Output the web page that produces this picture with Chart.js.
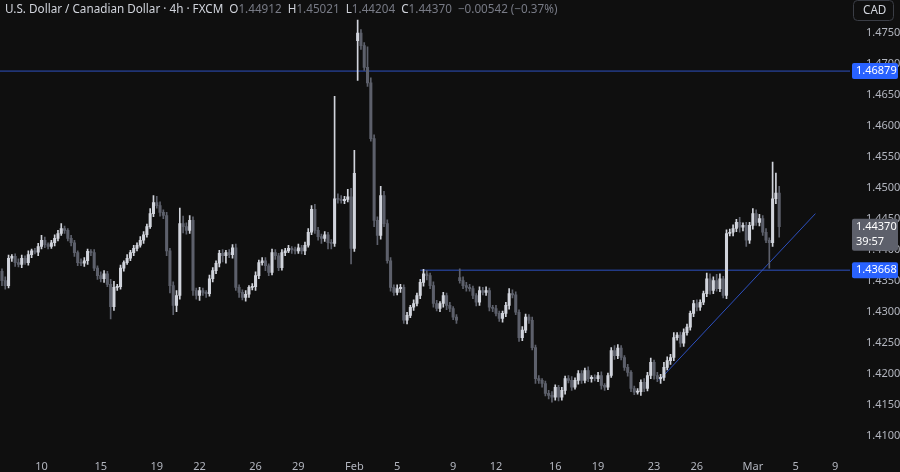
<!DOCTYPE html>
<html><head><meta charset="utf-8">
<script src="https://cdn.jsdelivr.net/npm/chart.js@4"></script>
<style>html,body{margin:0;padding:0;background:#0f0f0f;overflow:hidden}</style>
</head><body><canvas id="c" width="900" height="472"></canvas>
<script>
// 4h closes (USD/CAD)
const closes=[1.4350,1.4342,1.4386,1.4389,1.4379,1.4376,1.4386,1.4379,1.4392,1.4398,
1.4396,1.4405,1.4415,1.4408,1.4405,1.4411,1.4418,1.4426,1.4434,1.4431,
1.4418,1.4411,1.4395,1.4379,1.4378,1.4382,1.4397,1.4395,1.4370,1.4358,
1.4353,1.4361,1.4344,1.4308,1.4339,1.4340,1.4370,1.4379,1.4386,1.4395,
1.4402,1.4407,1.4415,1.4424,1.4437,1.4458,1.4476,1.4471,1.4460,1.4455,
1.4398,1.4342,1.4310,1.4326,1.4442,1.4437,1.4431,1.4447,1.4334,1.4326,
1.4334,1.4331,1.4329,1.4353,1.4366,1.4378,1.4394,1.4390,1.4395,1.4392,
1.4403,1.4339,1.4331,1.4323,1.4328,1.4339,1.4340,1.4358,1.4379,1.4382,
1.4374,1.4363,1.4395,1.4390,1.4371,1.4395,1.4398,1.4402,1.4400,1.4398,
1.4403,1.4398,1.4407,1.4428,1.4465,1.4431,1.4421,1.4418,1.4424,1.4411,
1.4410,1.4482,1.4481,1.4479,1.4481,1.4485,1.4402,1.4523,1.4749,1.4729,
1.4694,1.4669,1.4579,1.4447,1.4423,1.4487,1.4442,1.4382,1.4339,1.4331,
1.4337,1.4339,1.4286,1.4294,1.4307,1.4313,1.4326,1.4347,1.4361,1.4358,
1.4342,1.4313,1.4305,1.4313,1.4326,1.4310,1.4305,1.4291,1.4286,1.4350,
1.4342,1.4339,1.4337,1.4326,1.4315,1.4334,1.4331,1.4334,1.4307,1.4305,
1.4297,1.4289,1.4297,1.4310,1.4329,1.4327,1.4299,1.4258,1.4270,1.4291,
1.4286,1.4242,1.4192,1.4189,1.4184,1.4168,1.4165,1.4162,1.4178,1.4162,
1.4173,1.4192,1.4189,1.4178,1.4189,1.4200,1.4189,1.4205,1.4192,1.4194,
1.4192,1.4197,1.4181,1.4178,1.4197,1.4237,1.4229,1.4241,1.4226,1.4210,
1.4202,1.4176,1.4170,1.4171,1.4186,1.4176,1.4197,1.4218,1.4197,1.4192,
1.4194,1.4210,1.4221,1.4226,1.4258,1.4262,1.4249,1.4266,1.4275,1.4297,
1.4313,1.4307,1.4315,1.4329,1.4353,1.4334,1.4350,1.4337,1.4353,1.4326,
1.4426,1.4428,1.4434,1.4444,1.4436,1.4439,1.4415,1.4439,1.4458,1.4444,
1.4450,1.4428,1.4415,1.4411,1.4482,1.44912,1.44370];
// opens that differ from the previous close (session gaps)
const gapOpens={0:1.4365,108:1.4737,139:1.4355};
// wick lengths in pips above / below the body
const wickUp=[4,6,5,3,4,6,5,4,6,3, 4,5,8,5,3,4,6,5,8,4, 3,5,4,3,6,5,4,3,5,4, 6,5,4,8,10,4,5,3,6,4,
5,4,6,5,4,8,11,10,6,4, 5,4,6,8,25,12,6,8,6,4, 5,4,3,6,5,4,5,6,4,5, 5,6,4,4,6,3,5,6,4,5,
5,3,6,5,4,5,4,5,3,4, 6,4,5,6,6,8,5,4,5,4, 5,165,8,6,5,12,14,37,21,6, 5,33,8,6,6,15,7,6,5,4,
6,5,4,5,3,6,4,5,7,5, 4,6,5,3,5,4,5,3,4,14, 6,5,5,4,3,6,5,6,4,3, 5,4,4,5,8,6,5,4,6,5,
4,5,4,5,3,4,5,6,4,3, 5,4,5,6,4,5,5,4,6,3, 4,5,6,3,4,5,8,6,4,3, 5,3,4,5,4,6,5,7,4,5,
5,8,6,5,8,4,5,6,5,4, 5,6,4,4,9,8,6,10,8,4, 6,5,6,5,8,4,5,5,8,6, 7,5,6,4,59,32,11];
const wickDn=[8,6,4,5,6,4,5,3,4,5, 3,6,4,5,4,3,5,4,3,5, 4,5,6,5,4,5,6,5,4,6, 5,6,4,20,6,5,4,5,3,4,
5,4,3,5,4,3,5,4,6,5, 8,12,15,10,6,10,6,5,8,6, 8,5,6,4,5,5,6,10,12,5, 6,5,8,4,6,5,4,6,5,4,
8,5,4,6,5,4,5,3,6,5, 4,5,6,3,4,5,6,8,5,10, 9,5,6,4,5,4,25,5,64,6, 5,6,4,10,15,6,5,4,6,5,
4,6,5,6,4,5,4,5,6,7, 5,6,4,5,6,7,5,4,5,4, 5,6,4,5,6,5,4,5,6,5, 4,5,6,5,6,5,4,6,5,4,
5,4,8,5,6,4,6,8,5,6, 5,6,4,5,3,6,5,4,5,6, 4,5,6,5,4,3,6,5,4,5, 6,5,4,3,6,5,4,5,6,5,
8,5,4,6,5,4,6,5,4,5, 5,6,5,4,5,6,5,4,5,4, 5,4,6,5,8,6,10,5,6,5, 6,5,4,41,6,8,17];
const dateTicks=[12,30,47,60,77,90,107,120,137,150,168,181,198,211,228,241,253];
const dateLabels=['10','15','19','22','26','29','Feb','5','9','12','16','19','23','26','Mar','5','9'];
const priceTicks=[1.41,1.415,1.42,1.425,1.43,1.435,1.44,1.445,1.45,1.455,1.46,1.465,1.47,1.475];
const resistance=1.46879, support=1.43668, supportStart=127;
const trendX=[199.5,247], trendY=[1.4189,1.4458];
const lastPrice=1.44370, countdown='39:57';

const UP='#d1d4dc', DN='#5d606b', BLUE='#2d50c0';
const bodies=[], wicks=[], bc=[], wc=[];
closes.forEach((c,i)=>{
  const o = (i in gapOpens) ? gapOpens[i] : closes[i-1];
  const hi=Math.max(o,c)+wickUp[i]*0.0001, lo=Math.min(o,c)-wickDn[i]*0.0001;
  const col = c>=o?UP:DN;
  bodies.push({x:i,y:[o,c]}); wicks.push({x:i,y:[lo,hi]}); bc.push(col); wc.push(col);
});
const overlay={id:'overlay',afterDraw(ch){
  const g=ch.ctx, y=ch.scales.y;
  g.save();
  g.font='11.7px "Noto Sans", sans-serif'; g.textBaseline='middle'; g.textAlign='left';
  let x=5; const parts=[['U.S. Dollar / Canadian Dollar · 4h · FXCM  ','#d1d4dc'],['O','#d1d4dc'],['1.44912  ','#787b86'],['H','#d1d4dc'],['1.45021  ','#787b86'],['L','#d1d4dc'],['1.44204  ','#787b86'],['C','#d1d4dc'],['1.44370  −0.00542 (−0.37%)','#787b86']];
  parts.forEach(p=>{g.fillStyle=p[1];g.fillText(p[0],x,10);x+=g.measureText(p[0]).width;});
  g.strokeStyle='#3a3d45'; g.lineWidth=1; g.beginPath(); g.roundRect(853.5,0.5,40,20,4); g.stroke();
  g.fillStyle='#d1d4dc'; g.fillText('CAD',863,11);
  const box=(p,bg,lines)=>{const yy=y.getPixelForValue(p);const h=lines.length>1?32:16;
    g.fillStyle=bg; g.beginPath(); g.roundRect(852,yy-8,46,h,2); g.fill();
    g.fillStyle='#ffffff'; g.font='11px "Noto Sans", sans-serif';
    lines.forEach((t,k)=>g.fillText(t,856,yy+k*15));};
  box(resistance,'#2962ff',[resistance.toFixed(5)]);
  box(support,'#2962ff',[support.toFixed(5)]);
  box(lastPrice,'#5d606b',[lastPrice.toFixed(5),countdown]);
  g.restore();
}};
new Chart(document.getElementById('c'),{
  data:{datasets:[
    {type:'line',data:[{x:-1,y:resistance},{x:258,y:resistance}],borderColor:BLUE,borderWidth:1,pointRadius:0,order:3},
    {type:'line',data:[{x:supportStart,y:support},{x:258,y:support}],borderColor:BLUE,borderWidth:1,pointRadius:0,order:3},
    {type:'line',data:[{x:trendX[0],y:trendY[0]},{x:trendX[1],y:trendY[1]}],borderColor:BLUE,borderWidth:1,pointRadius:0,order:3},
    {type:'bar',data:wicks,backgroundColor:wc,barThickness:1,grouped:false,order:2},
    {type:'bar',data:bodies,backgroundColor:bc,barThickness:2.4,minBarLength:1,grouped:false,order:1}
  ]},
  options:{responsive:false,animation:false,devicePixelRatio:1,
    layout:{padding:0},
    plugins:{legend:{display:false},tooltip:{enabled:false}},
    scales:{
      x:{type:'linear',min:-0.6,max:257.5,offset:false,grid:{display:false},border:{display:false},
        afterBuildTicks(ax){ax.ticks=dateTicks.map(v=>({value:v}));},
        afterFit(ax){ax.height=24;},
        ticks:{autoSkip:false,maxRotation:0,color:'#b2b5be',font:{size:11,family:'"Noto Sans", sans-serif'},padding:4,
          callback:(v)=>dateLabels[dateTicks.indexOf(v)]}},
      y:{position:'right',min:1.4080,max:1.4779,grid:{display:false},border:{display:false},
        afterBuildTicks(ax){ax.ticks=priceTicks.map(v=>({value:v}));},
        afterFit(ax){ax.width=50;},
        ticks:{color:'#b2b5be',font:{size:11,family:'"Noto Sans", sans-serif'},padding:8,callback:v=>v.toFixed(5)}}
    }},
  plugins:[overlay]
});
</script>
</body></html>
